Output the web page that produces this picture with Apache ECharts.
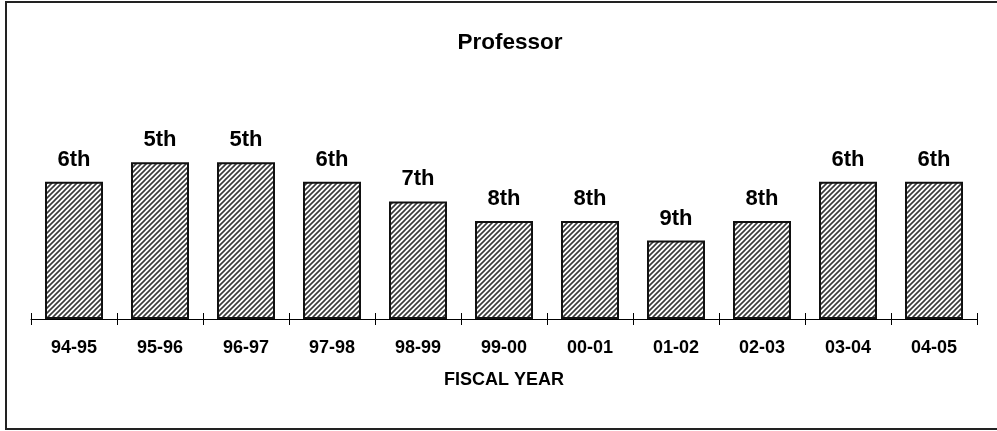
<!DOCTYPE html>
<html>
<head>
<meta charset="utf-8">
<script src="https://cdn.jsdelivr.net/npm/echarts@6/dist/echarts.min.js"></script>
<style>
  html, body { margin: 0; padding: 0; background: #fff; }
  #chart { width: 997px; height: 431px; }
</style>
</head>
<body>
<div id="chart"></div>
<script>
// Fiscal years on the category axis
const fiscalYears = ['94-95', '95-96', '96-97', '97-98', '98-99', '99-00',
                     '00-01', '01-02', '02-03', '03-04', '04-05'];
// Professor salary ranking for each year (1 = best)
const ranks = [6, 5, 5, 6, 7, 8, 8, 9, 8, 6, 6];
// Rank scale: a bar's height counts the places above this floor, so higher ranks stand taller
const rankFloor = 13;

function ordinal(n) {
  const s = ['th', 'st', 'nd', 'rd'];
  const v = n % 100;
  return n + (s[(v - 20) % 10] || s[v] || s[0]);
}

// Diagonal hatch fill for the bars
function hatchPattern() {
  const p = 5;
  const c = document.createElement('canvas');
  c.width = p; c.height = p;
  const ctx = c.getContext('2d');
  ctx.fillStyle = '#ffffff';
  ctx.fillRect(0, 0, p, p);
  ctx.strokeStyle = '#3a3a3a';
  ctx.lineWidth = 1.6;
  ctx.beginPath();
  ctx.moveTo(-1, p + 1); ctx.lineTo(p + 1, -1);
  ctx.moveTo(-2, 2); ctx.lineTo(2, -2);
  ctx.moveTo(p - 2, p + 2); ctx.lineTo(p + 2, p - 2);
  ctx.stroke();
  return c;
}

const chart = echarts.init(document.getElementById('chart'), null, { renderer: 'canvas' });
const font = '"Liberation Sans", Arial, Helvetica, sans-serif';

chart.setOption({
  animation: false,
  backgroundColor: '#ffffff',
  title: {
    text: 'Professor',
    left: 505,
    top: 26,
    textAlign: 'center',
    textStyle: { fontFamily: font, fontSize: 22.5, fontWeight: 'bold', color: '#000' }
  },
  graphic: [{
    type: 'rect',
    shape: { x: 6, y: 2, width: 1000, height: 427 },
    style: { fill: 'none', stroke: '#222', lineWidth: 2 },
    silent: true
  }],
  grid: { left: 31, right: 20, top: 123, bottom: 112 },
  xAxis: [{
    type: 'category',
    position: 'bottom',
    data: fiscalYears,
    axisLine: { lineStyle: { color: '#000', width: 1 } },
    axisTick: { show: true, length: 6, lineStyle: { color: '#000' } },
    axisLabel: { margin: 20, fontFamily: font, fontSize: 18, fontWeight: 'bold', color: '#000' },
    name: 'FISCAL YEAR',
    nameLocation: 'middle',
    nameGap: 52,
    nameTextStyle: { fontFamily: font, fontSize: 18, fontWeight: 'bold', color: '#000' }
  }, {
    type: 'category',
    position: 'bottom',
    offset: 0,
    data: fiscalYears,
    axisLine: { show: false },
    axisTick: { show: true, inside: true, length: 6, lineStyle: { color: '#000' } },
    axisLabel: { show: false }
  }],
  yAxis: {
    type: 'value',
    min: 0,
    max: 10,
    show: false,
    splitLine: { show: false }
  },
  series: [{
    type: 'bar',
    xAxisIndex: 0,
    barWidth: 58,
    data: ranks.map(r => rankFloor - r),
    itemStyle: {
      color: { image: hatchPattern(), repeat: 'repeat' },
      borderColor: '#111',
      borderWidth: 2
    },
    label: {
      show: true,
      position: 'top',
      distance: 11,
      formatter: p => ordinal(ranks[p.dataIndex]),
      fontFamily: font,
      fontSize: 22,
      fontWeight: 'bold',
      color: '#000'
    }
  }]
});
</script>
</body>
</html>
